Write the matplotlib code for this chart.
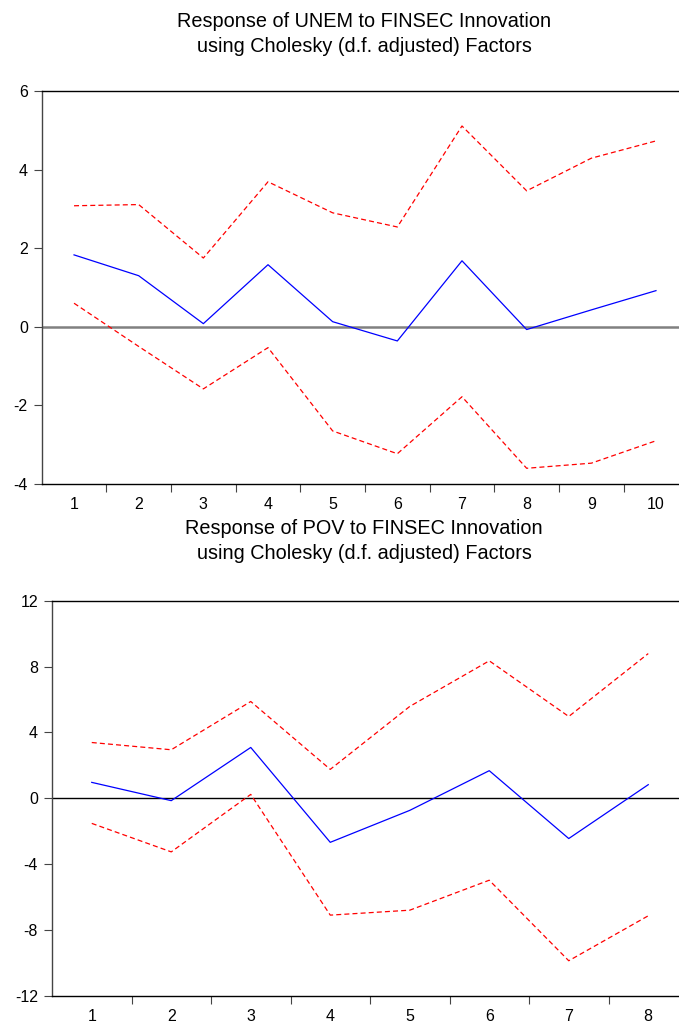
import matplotlib
matplotlib.use("Agg")
import matplotlib.pyplot as plt

plt.rcParams["font.family"] = ["Liberation Sans", "DejaVu Sans"]

W, H = 679, 1026

# Response of UNEM
unem_periods = [1, 2, 3, 4, 5, 6, 7, 8, 9, 10]
unem_resp = [1.83, 1.30, 0.08, 1.58, 0.13, -0.36, 1.68, -0.07, 0.43, 0.92]
unem_upper = [3.08, 3.11, 1.75, 3.69, 2.90, 2.54, 5.11, 3.46, 4.29, 4.73]
unem_lower = [0.60, -0.50, -1.58, -0.53, -2.65, -3.23, -1.78, -3.60, -3.47, -2.90]
unem_yticks = [-4, -2, 0, 2, 4, 6]

# Response of POV
pov_periods = [1, 2, 3, 4, 5, 6, 7, 8]
pov_resp = [0.97, -0.14, 3.09, -2.67, -0.73, 1.68, -2.44, 0.83]
pov_upper = [3.39, 2.95, 5.88, 1.76, 5.58, 8.35, 4.97, 8.79]
pov_lower = [-1.52, -3.25, 0.24, -7.09, -6.79, -4.97, -9.86, -7.13]
pov_yticks = [-12, -8, -4, 0, 4, 8, 12]

titles = [
    "Response of UNEM to FINSEC Innovation\nusing Cholesky (d.f. adjusted) Factors",
    "Response of POV to FINSEC Innovation\nusing Cholesky (d.f. adjusted) Factors",
]

fig = plt.figure(figsize=(W / 100, H / 100), dpi=100)


def px_axes(left, top, right, bottom):
    return fig.add_axes([left / W, 1 - bottom / H, (right - left) / W, (bottom - top) / H])


def draw_panel(ax, periods, resp, upper, lower, yticks, zero_color, zero_lw, title, title_y):
    ax.plot(periods, upper, color="red", lw=0.9, ls=(0, (4, 2.5)))
    ax.plot(periods, lower, color="red", lw=0.9, ls=(0, (4, 2.5)))
    ax.plot(periods, resp, color="blue", lw=0.9)
    ax.axhline(0, color=zero_color, lw=zero_lw, zorder=1)
    ax.set_xlim(periods[0] - 0.5, periods[-1] + 0.5)
    ax.set_ylim(yticks[0], yticks[-1])
    ax.set_yticks(yticks)
    ax.set_yticklabels([str(t) for t in yticks])
    ax.set_xticks([p + 0.5 for p in periods[:-1]])
    ax.set_xticklabels([])
    ax.set_xticks(periods, minor=True)
    ax.set_xticklabels([str(p) for p in periods], minor=True)
    ax.tick_params(axis="x", which="minor", length=0, labelsize=11.5, pad=9.5)
    ax.tick_params(axis="x", which="major", length=6, direction="out", color="#444444")
    ax.tick_params(axis="y", length=6, direction="out", labelsize=11.5, pad=4, color="#444444")
    for side in ["left", "bottom", "top", "right"]:
        ax.spines[side].set_linewidth(1.0)
    ax.spines["left"].set_color("#444444")
    fig.text(364 / W, 1 - title_y / H, title, ha="center", va="center",
             fontsize=14.3, linespacing=1.42)


ax1 = px_axes(41.7, 91, 688.3, 484)
draw_panel(ax1, unem_periods, unem_resp, unem_upper, unem_lower, unem_yticks,
           "#808080", 1.8, titles[0], 34)

ax2 = px_axes(52, 600.7, 688, 996)
draw_panel(ax2, pov_periods, pov_resp, pov_upper, pov_lower, pov_yticks,
           "black", 1.0, titles[1], 541)

fig.savefig("out.png", dpi=100)
